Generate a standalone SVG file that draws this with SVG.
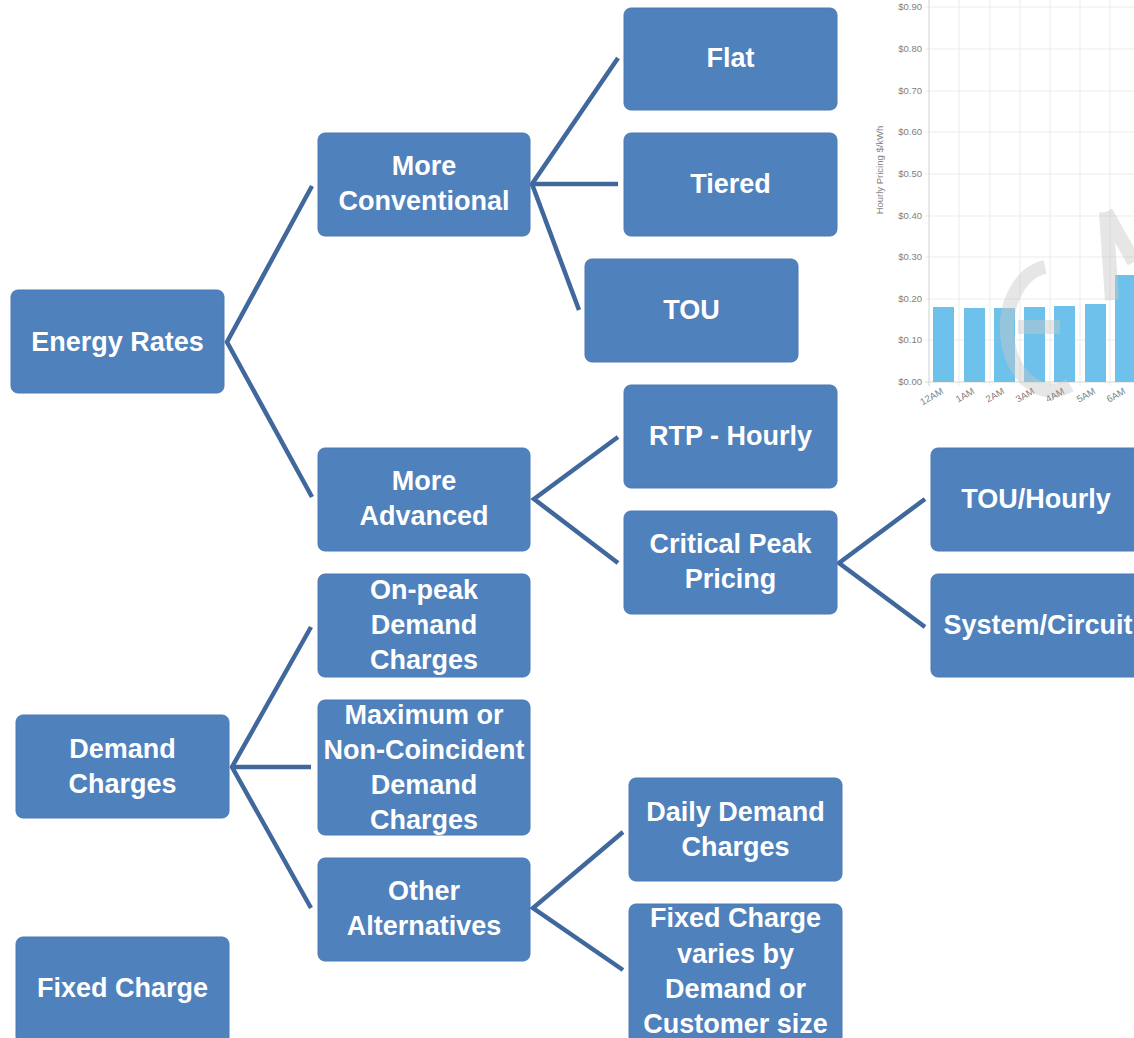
<svg xmlns="http://www.w3.org/2000/svg" width="1134" height="1038" viewBox="0 0 1134 1038">
<style>
.box{fill:#4f81bd;stroke:#4a7ab4;stroke-width:1}
.lbl{font-family:"Liberation Sans",Arial,sans-serif;font-weight:bold;font-size:27px;fill:#ffffff;text-anchor:middle}
.con{stroke:#40689c;stroke-width:4.5;fill:none;stroke-linejoin:miter}
.grid{stroke:#ebebeb;stroke-width:1}
.ax{font-family:"Liberation Sans",Arial,sans-serif;font-size:9.5px;fill:#808080}
.bar{fill:#6ec1ea}
</style>
<rect x="0" y="0" width="1134" height="1038" fill="#ffffff"/>
<g id="chart">
  <g class="grid">
    <line x1="925" y1="7" x2="1134" y2="7"/>
    <line x1="925" y1="49" x2="1134" y2="49"/>
    <line x1="925" y1="91" x2="1134" y2="91"/>
    <line x1="925" y1="132" x2="1134" y2="132"/>
    <line x1="925" y1="174" x2="1134" y2="174"/>
    <line x1="925" y1="216" x2="1134" y2="216"/>
    <line x1="925" y1="257" x2="1134" y2="257"/>
    <line x1="925" y1="299" x2="1134" y2="299"/>
    <line x1="925" y1="340" x2="1134" y2="340"/>
    <line x1="959" y1="0" x2="959" y2="386"/>
    <line x1="990" y1="0" x2="990" y2="386"/>
    <line x1="1020" y1="0" x2="1020" y2="386"/>
    <line x1="1050" y1="0" x2="1050" y2="386"/>
    <line x1="1080" y1="0" x2="1080" y2="386"/>
    <line x1="1110" y1="0" x2="1110" y2="386"/>
  </g>
  <line x1="929" y1="0" x2="929" y2="386" stroke="#d8d8d8" stroke-width="1.2"/>
  <line x1="925" y1="382" x2="1134" y2="382" stroke="#d8d8d8" stroke-width="1.2"/>
  <rect class="bar" x="933" y="307" width="21" height="75"/>
  <rect class="bar" x="964" y="308" width="21" height="74"/>
  <rect class="bar" x="994" y="308" width="21" height="74"/>
  <rect class="bar" x="1024" y="307" width="21" height="75"/>
  <rect class="bar" x="1054" y="306" width="21" height="76"/>
  <rect class="bar" x="1085" y="304" width="21" height="78"/>
  <rect class="bar" x="1115" y="275" width="21" height="107"/>
  <g opacity="0.45" fill="none" stroke="#c8c8c8" stroke-width="14">
    <path d="M1045,267 A45,62 0 1 0 1070,385"/>
    <line x1="1018" y1="327" x2="1060" y2="327"/>
    <line x1="1106" y1="212" x2="1134" y2="262"/>
    <line x1="1106" y1="212" x2="1112" y2="300"/>
  </g>
  <g class="ax" text-anchor="end">
    <text x="922" y="10">$0.90</text>
    <text x="922" y="52">$0.80</text>
    <text x="922" y="94">$0.70</text>
    <text x="922" y="135">$0.60</text>
    <text x="922" y="177">$0.50</text>
    <text x="922" y="219">$0.40</text>
    <text x="922" y="260">$0.30</text>
    <text x="922" y="302">$0.20</text>
    <text x="922" y="343">$0.10</text>
    <text x="922" y="385">$0.00</text>
  </g>
  <g class="ax" text-anchor="end" font-size="8.5">
    <text transform="translate(944,393) rotate(-30)">12AM</text>
    <text transform="translate(975,393) rotate(-30)">1AM</text>
    <text transform="translate(1005,393) rotate(-30)">2AM</text>
    <text transform="translate(1035,393) rotate(-30)">3AM</text>
    <text transform="translate(1065,393) rotate(-30)">4AM</text>
    <text transform="translate(1096,393) rotate(-30)">5AM</text>
    <text transform="translate(1126,393) rotate(-30)">6AM</text>
  </g>
  <text class="ax" text-anchor="middle" font-size="10" transform="translate(883,170) rotate(-90)">Hourly Pricing $/kWh</text>
</g>
<g id="connectors">
  <polyline class="con" points="312,186 227,342 312,497"/>
  <polyline class="con" points="618,58 532,184 618,184"/>
  <line class="con" x1="532" y1="184" x2="579" y2="310"/>
  <polyline class="con" points="618,437 534,499 618,563"/>
  <polyline class="con" points="925,499 839,563 925,627"/>
  <polyline class="con" points="311,627 232,767 311,908"/>
  <line class="con" x1="232" y1="767" x2="311" y2="767"/>
  <polyline class="con" points="623,832 533,908 623,970"/>
</g>
<g id="energy-rates"><rect class="box" x="11" y="290" width="213" height="103" rx="7"/><text class="lbl" x="117.5" y="351">Energy Rates</text></g>
<g id="more-conventional"><rect class="box" x="318" y="133" width="212" height="103" rx="7"/><text class="lbl" x="424" y="175">More</text><text class="lbl" x="424" y="210">Conventional</text></g>
<g id="flat"><rect class="box" x="624" y="8" width="213" height="102" rx="7"/><text class="lbl" x="730.5" y="67">Flat</text></g>
<g id="tiered"><rect class="box" x="624" y="133" width="213" height="103" rx="7"/><text class="lbl" x="730.5" y="193">Tiered</text></g>
<g id="tou"><rect class="box" x="585" y="259" width="213" height="103" rx="7"/><text class="lbl" x="691.5" y="319">TOU</text></g>
<g id="more-advanced"><rect class="box" x="318" y="448" width="212" height="103" rx="7"/><text class="lbl" x="424" y="490">More</text><text class="lbl" x="424" y="525">Advanced</text></g>
<g id="rtp-hourly"><rect class="box" x="624" y="385" width="213" height="103" rx="7"/><text class="lbl" x="730.5" y="445">RTP - Hourly</text></g>
<g id="critical-peak"><rect class="box" x="624" y="511" width="213" height="103" rx="7"/><text class="lbl" x="730.5" y="553">Critical Peak</text><text class="lbl" x="730.5" y="588">Pricing</text></g>
<g id="tou-hourly"><rect class="box" x="931" y="448" width="213" height="103" rx="7"/><text class="lbl" x="1036" y="508">TOU/Hourly</text></g>
<g id="system-circuit"><rect class="box" x="931" y="574" width="213" height="103" rx="7"/><text class="lbl" x="1038" y="634">System/Circuit</text></g>
<g id="on-peak"><rect class="box" x="318" y="574" width="212" height="103" rx="7"/><text class="lbl" x="424" y="599">On-peak</text><text class="lbl" x="424" y="634">Demand</text><text class="lbl" x="424" y="669">Charges</text></g>
<g id="maximum"><rect class="box" x="318" y="700" width="212" height="135" rx="7"/><text class="lbl" x="424" y="724">Maximum or</text><text class="lbl" x="424" y="759">Non-Coincident</text><text class="lbl" x="424" y="794">Demand</text><text class="lbl" x="424" y="829">Charges</text></g>
<g id="demand-charges"><rect class="box" x="16" y="715" width="213" height="103" rx="7"/><text class="lbl" x="122.5" y="758">Demand</text><text class="lbl" x="122.5" y="793">Charges</text></g>
<g id="other-alternatives"><rect class="box" x="318" y="858" width="212" height="103" rx="7"/><text class="lbl" x="424" y="900">Other</text><text class="lbl" x="424" y="935">Alternatives</text></g>
<g id="daily-demand"><rect class="box" x="629" y="778" width="213" height="103" rx="7"/><text class="lbl" x="735.5" y="821">Daily Demand</text><text class="lbl" x="735.5" y="856">Charges</text></g>
<g id="fixed-varies"><rect class="box" x="629" y="904" width="213" height="140" rx="7"/><text class="lbl" x="735.5" y="927">Fixed Charge</text><text class="lbl" x="735.5" y="963">varies by</text><text class="lbl" x="735.5" y="998">Demand or</text><text class="lbl" x="735.5" y="1033">Customer size</text></g>
<g id="fixed-charge"><rect class="box" x="16" y="937" width="213" height="107" rx="7"/><text class="lbl" x="122.5" y="997">Fixed Charge</text></g>
</svg>
